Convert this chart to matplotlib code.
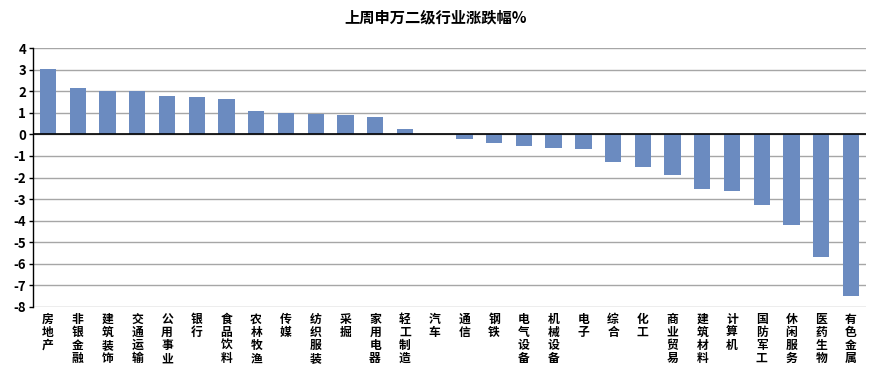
import matplotlib
matplotlib.use("Agg")
import matplotlib.pyplot as plt

plt.rcParams['font.family'] = ['Noto Sans CJK SC', 'DejaVu Sans']

title = "上周申万二级行业涨跌幅%"
categories = ["房地产", "非银金融", "建筑装饰", "交通运输", "公用事业", "银行", "食品饮料",
              "农林牧渔", "传媒", "纺织服装", "采掘", "家用电器", "轻工制造", "汽车",
              "通信", "钢铁", "电气设备", "机械设备", "电子", "综合", "化工", "商业贸易",
              "建筑材料", "计算机", "国防军工", "休闲服务", "医药生物", "有色金属"]
values = [3.05, 2.14, 2.00, 2.00, 1.77, 1.72, 1.63, 1.08, 0.98, 0.95, 0.89, 0.80, 0.25, 0.0,
          -0.20, -0.39, -0.53, -0.63, -0.67, -1.27, -1.50, -1.87, -2.51, -2.60, -3.25,
          -4.18, -5.70, -7.50]
yticks = list(range(-8, 5))

fig = plt.figure(figsize=(8.72, 3.79), dpi=100)
ax = fig.add_axes([0.038, 0.19, 0.955, 0.683])

x = list(range(len(categories)))
ax.bar(x, values, width=0.55, color="#6b8bc0", zorder=3)

ax.set_xlim(-0.5, len(categories) - 0.5)
ax.set_ylim(-8, 4)
ax.set_yticks(yticks)
ax.set_yticklabels([str(t) for t in yticks], fontsize=9.5, fontweight="heavy")
ax.yaxis.grid(True, color="#a6a6a6", linewidth=1.0, zorder=0)
ax.axhline(0, color="black", linewidth=1.2, zorder=4)

for s in ["top", "right", "bottom"]:
    ax.spines[s].set_visible(False)
ax.spines["left"].set_color("black")
ax.spines["left"].set_linewidth(1.0)
ax.tick_params(axis="y", length=3, width=1, color="black", pad=2)

ax.set_xticks(x)
ax.set_xticklabels(["\n".join(c) for c in categories], fontsize=8.5, fontweight="heavy",
                   linespacing=1.02)
ax.tick_params(axis="x", length=0, pad=4)

fig.text(0.5, 0.955, title, ha="center", va="center", fontsize=11, fontweight="bold")

fig.savefig("out.png", dpi=100)
